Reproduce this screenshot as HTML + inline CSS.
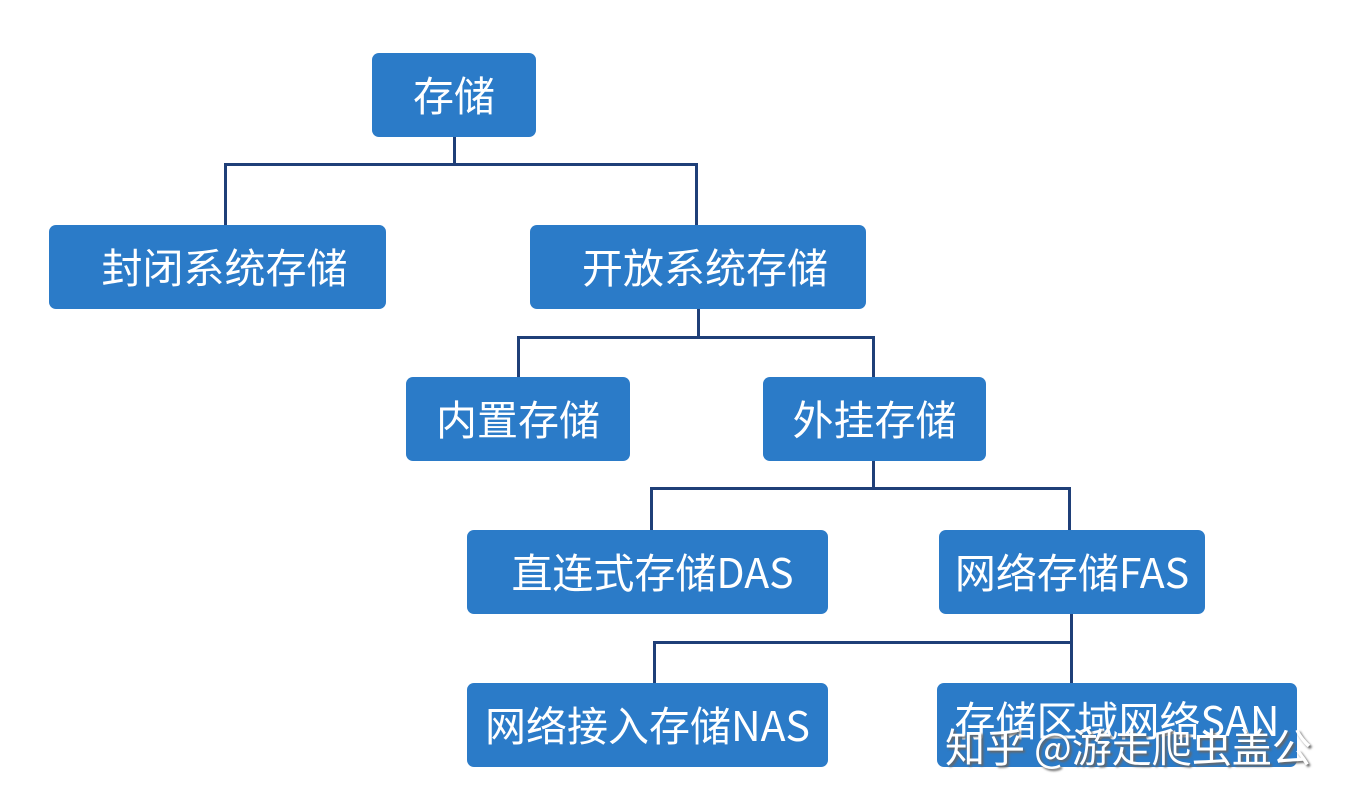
<!DOCTYPE html>
<html><head><meta charset="utf-8"><style>
body{margin:0;width:1351px;height:809px;background:#fff;position:relative;overflow:hidden;font-family:"Noto Sans CJK SC","Liberation Sans",sans-serif}
.b{position:absolute;background:#2b7bc8;border-radius:7px;color:#fff;font-size:41px;display:flex;align-items:center;justify-content:center;box-sizing:border-box;white-space:nowrap;padding-bottom:4px}
.l{position:absolute;background:#1f3f78}
.wm{position:absolute;left:945px;top:716px;font-size:40px;color:#fff;text-shadow:2px 2px 2px #666;white-space:nowrap;font-family:"Noto Sans CJK SC",sans-serif}
</style></head><body>
<div class="l" style="left:453px;top:137px;width:3px;height:28px"></div>
<div class="l" style="left:224px;top:163px;width:474px;height:3px"></div>
<div class="l" style="left:224px;top:163px;width:3px;height:62px"></div>
<div class="l" style="left:695px;top:163px;width:3px;height:62px"></div>
<div class="l" style="left:697px;top:309px;width:3px;height:29px"></div>
<div class="l" style="left:517px;top:336px;width:358px;height:3px"></div>
<div class="l" style="left:517px;top:336px;width:3px;height:41px"></div>
<div class="l" style="left:872px;top:336px;width:3px;height:41px"></div>
<div class="l" style="left:872px;top:461px;width:3px;height:28px"></div>
<div class="l" style="left:650px;top:487px;width:421px;height:3px"></div>
<div class="l" style="left:650px;top:487px;width:3px;height:43px"></div>
<div class="l" style="left:1068px;top:487px;width:3px;height:43px"></div>
<div class="l" style="left:1070px;top:614px;width:3px;height:69px"></div>
<div class="l" style="left:653px;top:641px;width:420px;height:3px"></div>
<div class="l" style="left:653px;top:641px;width:3px;height:42px"></div>
<div class="b" style="left:372px;top:53px;width:164px;height:84px">存储</div>
<div class="b" style="left:49px;top:225px;width:337px;height:84px;padding-left:14px">封闭系统存储</div>
<div class="b" style="left:530px;top:225px;width:336px;height:84px;padding-left:14px">开放系统存储</div>
<div class="b" style="left:406px;top:377px;width:224px;height:84px">内置存储</div>
<div class="b" style="left:763px;top:377px;width:223px;height:84px">外挂存储</div>
<div class="b" style="left:467px;top:530px;width:361px;height:84px;padding-left:10px">直连式存储DAS</div>
<div class="b" style="left:939px;top:530px;width:266px;height:84px">网络存储FAS</div>
<div class="b" style="left:467px;top:683px;width:361px;height:84px">网络接入存储NAS</div>
<div class="b" style="left:937px;top:683px;width:360px;height:84px;padding-bottom:14px">存储区域网络SAN</div>
<div class="wm">知乎 @游走爬虫盖公</div>
</body></html>
